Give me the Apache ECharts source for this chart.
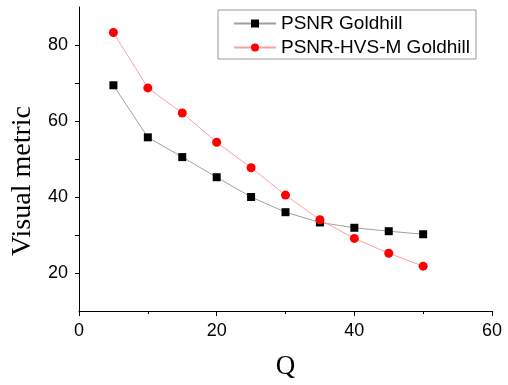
<!DOCTYPE html>
<html>
<head>
<meta charset="utf-8">
<script src="https://cdn.jsdelivr.net/npm/echarts@6/dist/echarts.min.js"></script>
<style>
  html, body { margin: 0; padding: 0; background: #fff; }
  #chart { width: 508px; height: 385px; }
</style>
</head>
<body>
<div id="chart"></div>
<script>
// Q values along the x axis
var qValues = [5, 10, 15, 20, 25, 30, 35, 40, 45, 50]
// visual metric per Q
var psnrGoldhill = [69.4, 55.7, 50.5, 45.2, 40.0, 36.0, 33.3, 31.9, 31.0, 30.2]
var psnrHvsmGoldhill = [83.3, 68.7, 62.1, 54.4, 47.7, 40.5, 34.0, 29.1, 25.2, 21.8]
var seriesNames = ['PSNR Goldhill', 'PSNR-HVS-M Goldhill']
var yTickValues = [20, 30, 40, 50, 60, 70, 80]
var yLabelValues = [20, 40, 60, 80]

function pairs (xs, ys) {
  return xs.map(function (x, i) { return [x, ys[i]] })
}

var myChart = echarts.init(document.getElementById('chart'))
var option = {
  backgroundColor: '#fff',
  animation: false,
  grid: {
    left: 79,
    right: 16,
    top: 7,
    bottom: 74
  },
  legend: {
    orient: 'vertical',
    left: 218,
    top: 10,
    backgroundColor: '#fff',
    borderColor: '#999',
    borderWidth: 1,
    borderRadius: 0,
    padding: [4, 6, 2, 15],
    itemWidth: 42,
    itemHeight: 10,
    itemGap: 5,
    textStyle: {
      fontFamily: 'Liberation Sans, Arial, sans-serif',
      fontSize: 19,
      color: '#000'
    },
    data: seriesNames
  },
  xAxis: {
    type: 'value',
    min: 0,
    max: 60,
    interval: 20,
    name: 'Q',
    nameLocation: 'middle',
    nameGap: 42,
    nameTextStyle: {
      fontFamily: 'Liberation Serif, Times New Roman, serif',
      fontSize: 27,
      color: '#000'
    },
    axisLine: { lineStyle: { color: '#000', width: 1 } },
    axisTick: { length: 5, lineStyle: { color: '#000' } },
    minorTick: { show: true, splitNumber: 2, length: 3, lineStyle: { color: '#000' } },
    splitLine: { show: false },
    axisLabel: {
      fontFamily: 'Liberation Sans, Arial, sans-serif',
      fontSize: 18,
      color: '#000',
      margin: 11
    }
  },
  yAxis: {
    type: 'value',
    min: 10,
    max: 90,
    interval: 10,
    name: 'Visual metric',
    nameLocation: 'middle',
    nameGap: 42,
    nameTextStyle: {
      fontFamily: 'Liberation Serif, Times New Roman, serif',
      fontSize: 28,
      color: '#000',
      padding: [0, 44, 0, 0]
    },
    axisLine: { lineStyle: { color: '#000', width: 1 } },
    axisTick: { length: 4, customValues: yTickValues, lineStyle: { color: '#000' } },
    splitLine: { show: false },
    axisLabel: {
      customValues: yLabelValues,
      fontFamily: 'Liberation Sans, Arial, sans-serif',
      fontSize: 18,
      color: '#000',
      margin: 11,
      formatter: function (v) { return v % 20 === 0 ? String(v) : '' }
    }
  },
  series: [
    {
      name: seriesNames[0],
      type: 'line',
      data: pairs(qValues, psnrGoldhill),
      symbol: 'rect',
      symbolSize: 8,
      itemStyle: { color: '#000' },
      lineStyle: { color: '#a0a0a0', width: 1 },
      z: 2
    },
    {
      name: seriesNames[1],
      type: 'line',
      data: pairs(qValues, psnrHvsmGoldhill),
      symbol: 'circle',
      symbolSize: 9,
      itemStyle: { color: '#ff0000' },
      lineStyle: { color: '#ffa0a0', width: 1 },
      z: 3
    }
  ]
}
myChart.setOption(option)
</script>
</body>
</html>
